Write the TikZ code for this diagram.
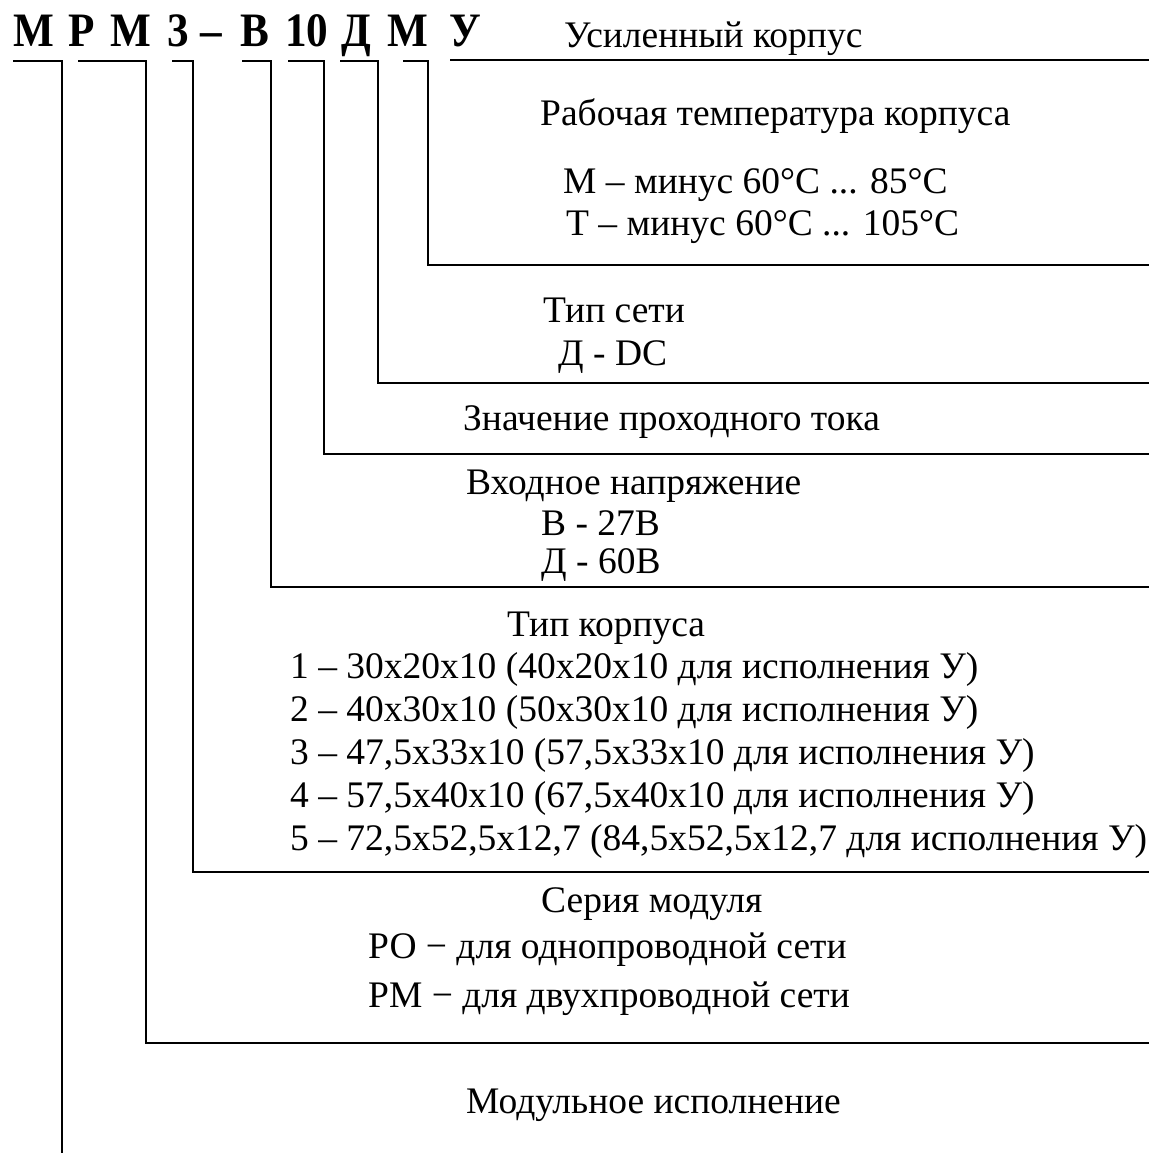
\documentclass[tikz,border=0pt]{standalone}
\usepackage{fontspec}
\setmainfont{Liberation Serif}
\newfontfamily\codefont[FakeStretch=0.9]{Liberation Serif}
\usepackage{tikz}
\tikzset{
	codestyle/.style={anchor=base west,inner sep=0pt,font=\codefont\fontsize{48}{50}\selectfont\bfseries},
	textstyle/.style={anchor=base west,inner sep=0pt,font=\fontsize{37.5}{43}\selectfont},
	leaderstyle/.style={line width=2pt}
}
\begin{document}
\begin{tikzpicture}[x=1pt,y=-1pt]
		\useasboundingbox (0,0) rectangle (1149,1153);
		% code
		\node[codestyle] (c1) at (13,47) {М};
		\node[codestyle] (c2) at (68,47) {Р};
		\node[codestyle] (c3) at (110,47) {М};
		\node[codestyle] (c4) at (167,47) {3};
		\node[codestyle] (c5) at (200,47) {–};
		\node[codestyle] (c6) at (240,47) {В};
		\node[codestyle] (c7) at (285,47) {10};
		\node[codestyle] (c8) at (341,47) {Д};
		\node[codestyle] (c9) at (387,47) {М};
		\node[codestyle] (c10) at (449,47) {У};
		% descriptions
		\node[textstyle] (usil) at (564,48) {Усиленный корпус};
		\node[textstyle] (temp) at (540,125) {Рабочая температура корпуса};
		\node[textstyle] (tempm) at (563,193) {М – минус 60°C ... 85°C};
		\node[textstyle] (tempt) at (566,235) {Т – минус 60°C ... 105°C};
		\node[textstyle] (net) at (543,322) {Тип сети};
		\node[textstyle] (netd) at (558,365) {Д - DC};
		\node[textstyle] (cur) at (463,430) {Значение проходного тока};
		\node[textstyle] (volt) at (466,494) {Входное напряжение};
		\node[textstyle] (voltb) at (541,535) {В - 27В};
		\node[textstyle] (voltd) at (541,573) {Д - 60В};
		\node[textstyle] (case) at (507,636) {Тип корпуса};
		\node[textstyle] (case1) at (290,678) {1 – 30x20x10 (40x20x10 для исполнения У)};
		\node[textstyle] (case2) at (290,721) {2 – 40x30x10 (50x30x10 для исполнения У)};
		\node[textstyle] (case3) at (290,764) {3 – 47,5x33x10 (57,5x33x10 для исполнения У)};
		\node[textstyle] (case4) at (290,807) {4 – 57,5x40x10 (67,5x40x10 для исполнения У)};
		\node[textstyle] (case5) at (290,850) {5 – 72,5x52,5x12,7 (84,5x52,5x12,7 для исполнения У)};
		\node[textstyle] (ser) at (541,912) {Серия модуля};
		\node[textstyle] (sero) at (368,958) {РО − для однопроводной сети};
		\node[textstyle] (serm) at (368,1007) {РМ − для двухпроводной сети};
		\node[textstyle] (mod) at (466,1113) {Модульное исполнение};
		% leaders
		\coordinate (edge) at (1149,0);
		\coordinate (a1) at (13,61);  \coordinate (b1) at (62,1153);
		\coordinate (a2) at (78,61);  \coordinate (b2) at (146,1043);
		\coordinate (a3) at (172,61); \coordinate (b3) at (193,872);
		\coordinate (a4) at (242,61); \coordinate (b4) at (271,587);
		\coordinate (a5) at (288,61); \coordinate (b5) at (324,454);
		\coordinate (a6) at (340,61); \coordinate (b6) at (378,383);
		\coordinate (a7) at (403,61); \coordinate (b7) at (428,265);
		\coordinate (a8) at (450,60);
		\draw[leaderstyle] (a1) -| (b1);
		\draw[leaderstyle] (a2) -| (b2) -- (b2 -| edge);
		\draw[leaderstyle] (a3) -| (b3) -- (b3 -| edge);
		\draw[leaderstyle] (a4) -| (b4) -- (b4 -| edge);
		\draw[leaderstyle] (a5) -| (b5) -- (b5 -| edge);
		\draw[leaderstyle] (a6) -| (b6) -- (b6 -| edge);
		\draw[leaderstyle] (a7) -| (b7) -- (b7 -| edge);
		\draw[leaderstyle] (a8) -- (a8 -| edge);
		\end{tikzpicture}
\end{document}
